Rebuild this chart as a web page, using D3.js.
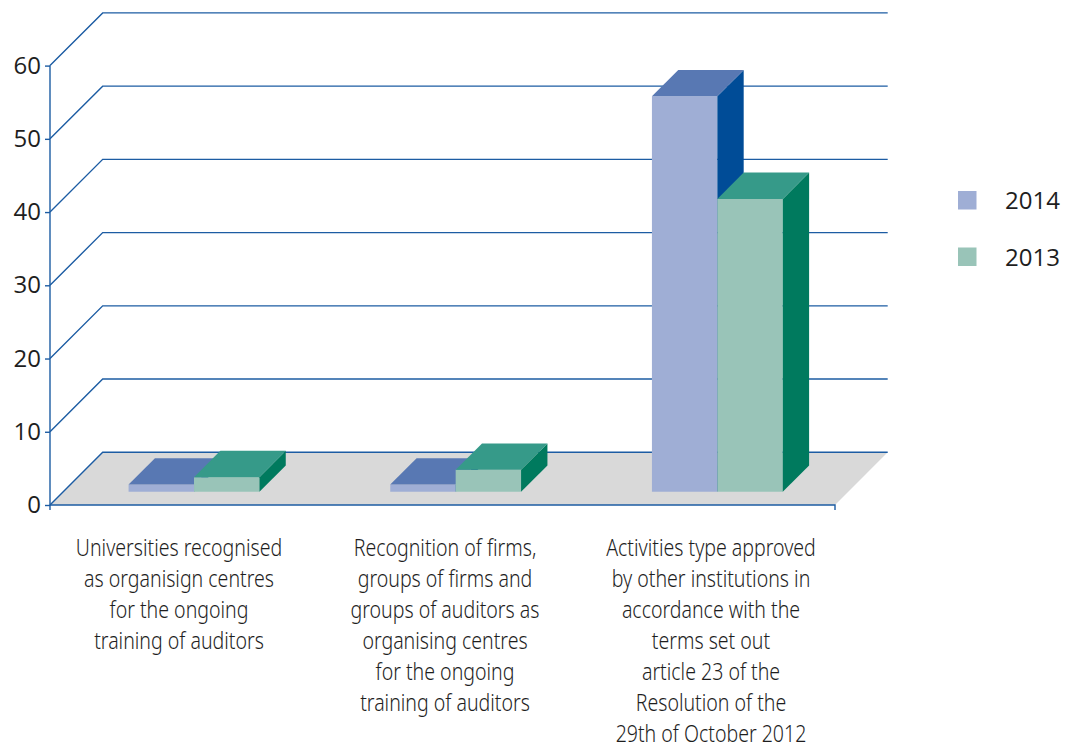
<!DOCTYPE html>
<html>
<head>
<meta charset="utf-8">
<script src="https://cdn.jsdelivr.net/npm/d3@7"></script>
<style>
  html, body { margin: 0; padding: 0; background: #ffffff; }
  svg { display: block; }
  .num { font-family: "Open Sans", "Noto Sans", sans-serif; font-size: 24px; fill: #1e1e1e; }
  .cat { font-family: "Noto Sans", "Open Sans", sans-serif; font-weight: 300; font-size: 23px; fill: #1e1e1e; }
</style>
</head>
<body>
<svg id="chart" width="1067" height="749"></svg>
<script>
// Categories (one label line per array entry)
const categories = [
  ["Universities recognised", "as organisign centres", "for the ongoing", "training of auditors"],
  ["Recognition of firms,", "groups of firms and", "groups of auditors as", "organising centres", "for the ongoing", "training of auditors"],
  ["Activities type approved", "by other institutions in", "accordance with the", "terms set out", "article 23 of the", "Resolution of the", "29th of October 2012"]
];
const seriesNames = ["2014", "2013"];
const values2014 = [1, 1, 54];
const values2013 = [2, 3, 40];
const yTicks = [0, 10, 20, 30, 40, 50, 60];

// Face colours per series: front, top, side
const palette = {
  "2014": { front: "#9faed5", top: "#5878b3", side: "#004c97" },
  "2013": { front: "#99c4b8", top: "#369a89", side: "#007a5e" }
};
const lineColor = "#1c5ca3";

const svg = d3.select("#chart");

// Front plane of the plot and depth of the 3D box
const left = 50, right = 835, depth = 52.7;
const y = d3.scaleLinear().domain([0, 60]).range([505, 65.6]);
const idx = d3.range(categories.length);
const x = d3.scaleBand().domain(idx).range([left, right]).padding(0);
// each category holds two bars in its middle half
const xs = d3.scaleBand().domain(seriesNames).range([0, x.bandwidth()]).paddingOuter(1).paddingInner(0);
// label columns under the floor
const xl = d3.scaleBand().domain(idx).range([46, 844]).padding(0);

// Bars sit in the middle half of the depth
const d1 = depth * 0.25, d2 = depth * 0.75;

const rows = categories.map((c, i) => ({
  i,
  bars: [
    { s: "2014", v: values2014[i] },
    { s: "2013", v: values2013[i] }
  ]
}));

// Floor
const y0 = y(0);
svg.append("path")
  .attr("d", `M${left},${y0}L${left + depth},${y0 - depth}L${right + depth},${y0 - depth}L${right},${y0}Z`)
  .attr("fill", "#d9d9d9");

// Back wall gridlines with their diagonal on the side wall
const grid = svg.append("g").attr("fill", "none").attr("stroke", lineColor).attr("stroke-width", 1.4);
grid.selectAll("path").data(yTicks).join("path")
  .attr("d", t => `M${left},${y(t)}L${left + depth},${y(t) - depth}L${right + depth},${y(t) - depth}`);

// Bars
const pt = (a) => a.map(p => p.join(",")).join("L");
const barG = svg.append("g");
rows.forEach(r => {
  r.bars.forEach(b => {
    const bx = x(r.i) + xs(b.s);
    const w = xs.bandwidth();
    const yt = y(b.v);
    const c = palette[b.s];
    const g = barG.append("g");
    // front face
    g.append("path")
      .attr("d", "M" + pt([[bx + d1, yt - d1], [bx + w + d1, yt - d1], [bx + w + d1, y0 - d1], [bx + d1, y0 - d1]]) + "Z")
      .attr("fill", c.front);
    // right side
    g.append("path")
      .attr("d", "M" + pt([[bx + w + d1, yt - d1], [bx + w + d2, yt - d2], [bx + w + d2, y0 - d2], [bx + w + d1, y0 - d1]]) + "Z")
      .attr("fill", c.side);
    // top
    g.append("path")
      .attr("d", "M" + pt([[bx + d1, yt - d1], [bx + w + d1, yt - d1], [bx + w + d2, yt - d2], [bx + d2, yt - d2]]) + "Z")
      .attr("fill", c.top);
  });
});

// Value axis
const yAxis = d3.axisLeft(y).tickValues(yTicks).tickSize(5).tickPadding(4).tickSizeOuter(0);
const ag = svg.append("g").attr("transform", `translate(${left},0)`).call(yAxis);
ag.select(".domain").remove();
ag.selectAll(".tick line").attr("stroke", lineColor).attr("stroke-width", 1.4);
ag.selectAll(".tick text").attr("class", "num").attr("font-size", null).attr("font-family", null).attr("fill", null);
svg.append("line")
  .attr("x1", left).attr("x2", left).attr("y1", y(60)).attr("y2", y0 + 5)
  .attr("stroke", lineColor).attr("stroke-width", 1.4);

// Category axis baseline with end tick
svg.append("path")
  .attr("d", `M${left},${y0}L${right},${y0}L${right},${y0 + 5}`)
  .attr("fill", "none").attr("stroke", lineColor).attr("stroke-width", 1.4);

// Category labels, set in a horizontally condensed face
const lineH = 31;
const condense = 0.85;
const labels = svg.append("g");
categories.forEach((lines, i) => {
  const cx = xl(i) + xl.bandwidth() / 2;
  const t = labels.append("text").attr("class", "cat").attr("text-anchor", "middle")
    .attr("transform", `translate(${cx},556) scale(${condense},1)`)
    .attr("x", 0).attr("y", 0);
  t.selectAll("tspan").data(lines).join("tspan")
    .attr("x", 0)
    .attr("dy", (d, k) => k === 0 ? 0 : lineH)
    .text(d => d);
});

// Legend
const legend = svg.append("g").attr("transform", "translate(958,191)");
seriesNames.forEach((s, k) => {
  const g = legend.append("g").attr("transform", `translate(0,${k * 56.5})`);
  g.append("rect").attr("width", 18.5).attr("height", 18.5).attr("fill", palette[s].front);
  g.append("text").attr("class", "num").attr("x", 47).attr("y", 18).text(s);
});
</script>
</body>
</html>
